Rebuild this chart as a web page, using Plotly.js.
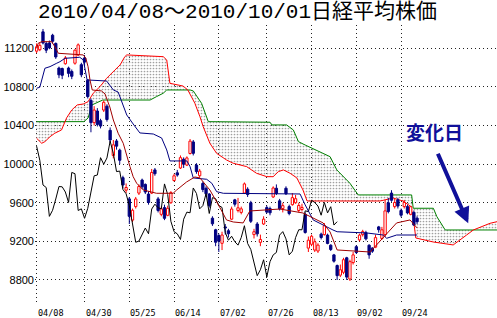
<!DOCTYPE html>
<html><head><meta charset="utf-8">
<script src="https://cdn.plot.ly/plotly-3.0.1.min.js"></script>
<style>html,body{margin:0;padding:0;background:#fff}#chart{width:497px;height:318px}</style>
</head><body><div id="chart"></div>
<script>
// x-axis: trading-day index (0 = 2010/04/08)
const tickDays   = [0, 15, 29, 43, 57, 72, 86, 100, 114];
const tickLabels = ['04/08','04/30','05/25','06/14','07/02','07/26','08/13','09/02','09/24'];
const yTicks     = [8800, 9200, 9600, 10000, 10400, 10800, 11200];
const yTickLabels = ['8800','9200','9600','10000','10400','10800','11200'];

// daily candles (Nikkei 225), days 0..119
const open  = [11170,11185,11370,11250,11255,11335,11250,10995,10990,11040,10995,10960,11045,11130,11030,11100,10870,10660,10430,10550,
               10450,10560,10600,10350,10090,10240,10145,9860,9730,9640,9420,9560,9700,9835,9790,9690,9700,9940,9640,9480,
               9550,9470,9600,9830,9910,9960,10050,9990,10110,10230,9990,9880,9800,9750,9690,9440,9320,9260,9180,9350,
               9310,9430,9630,9520,9500,9700,9740,9600,9270,9380,9190,9380,9550,9540,9660,9750,9620,9540,9750,9560,
               9580,9600,9520,9530,9480,9130,9170,9110,9100,9275,9270,9265,9160,9060,8950,8850,8880,9030,8810,8980,
               9145,9215,9270,9290,9160,9130,9140,9350,9230,9270,9600,9700,9560,9630,9520,9560,9560,9480,9500,9440];
const high  = [11250,11260,11400,11270,11280,11350,11260,11010,11000,11120,11010,10980,11190,11250,11050,11130,10880,10680,10600,10580,
               10470,10660,10620,10380,10250,10260,10160,9880,9800,9660,9540,9660,9790,9850,9800,9720,9950,9960,9660,9560,
               9580,9570,9720,9900,9940,10090,10070,10080,10260,10250,10010,9950,9820,9770,9700,9460,9330,9280,9300,9380,
               9330,9560,9640,9650,9560,9810,9760,9620,9330,9400,9270,9460,9570,9560,9770,9790,9640,9600,9770,9580,
               9700,9680,9600,9590,9500,9250,9270,9230,9180,9290,9390,9280,9170,9070,8960,8960,9030,9040,9010,9090,
               9160,9280,9320,9310,9170,9140,9270,9360,9350,9630,9650,9730,9640,9650,9540,9630,9580,9570,9520,9460];
const low   = [11150,11170,11240,11150,11190,11250,11090,10890,10880,11030,10900,10880,11030,11120,10900,11020,10680,10330,10400,10390,
               10370,10540,10440,10220,10060,10150,10000,9750,9700,9380,9400,9540,9680,9740,9690,9580,9690,9880,9500,9460,
               9420,9460,9590,9820,9870,9950,9960,9980,10100,10090,9900,9860,9710,9660,9550,9360,9150,9090,9110,9270,
               9240,9420,9560,9500,9480,9690,9660,9390,9230,9250,9150,9370,9490,9470,9650,9680,9520,9500,9680,9470,
               9570,9590,9500,9510,9280,9090,9150,9090,9080,9220,9260,9170,9100,8980,8800,8830,8860,8800,8790,8960,
               9070,9200,9250,9210,9020,9080,9130,9290,9215,9245,9490,9610,9540,9540,9450,9540,9480,9470,9360,9380];
const close = [11215,11230,11255,11180,11204,11273,11110,10925,10920,11100,10940,10910,11180,11235,10925,11057,10700,10430,10560,10411,
               10394,10640,10462,10250,10200,10186,10040,9784,9758,9459,9522,9639,9768,9765,9711,9603,9914,9901,9520,9537,
               9439,9542,9705,9879,9887,10067,9999,10064,10238,10112,9923,9928,9737,9693,9570,9382,9191,9203,9266,9338,
               9279,9535,9585,9548,9537,9795,9685,9408,9300,9278,9220,9430,9503,9496,9753,9696,9537,9570,9694,9489,
               9653,9642,9572,9551,9292,9212,9253,9196,9161,9240,9362,9179,9116,8995,8845,8906,9010,8830,8990,9060,
               9085,9265,9301,9226,9060,9098,9239,9321,9320,9516,9509,9626,9602,9566,9471,9603,9495,9559,9369,9404];

// Ichimoku lines (day index, value)
const tenkanDay = [0,0.5,1.6,4.7,5.7,6.8,14.6,15.4,16.1,16.7,17.4,20.3,21.4,22.9,24,25.5,27.1,28.2,29.2,30.2,31.3,33.4,37.5,42.7,43.8,46.9,
                   49.5,51.1,54.2,57.4,59.4,61.5,64.6,66.7,76.1,83.3,86.5,89.6,91.8,94,104.3,108.4,112.6,116.8,119];
const tenkanVal = [11200,11252,11268,11268,11217,11148,11131,11096,11009,10872,10768,10758,10727,10592,10457,10320,10216,10077,9974,9870,9802,9732,9698,9698,9732,9815,
                   9867,9857,9732,9546,9422,9401,9391,9515,9535,9494,9442,9391,9297,9111,9090,9235,9391,9422,9339];
const kijunDay  = [0,1,2.6,4.2,6.3,7.3,8.9,13.5,14.6,15.8,21.9,24,25.5,27.1,28.2,30.2,32.3,36.5,39.1,40.7,41.7,47,48,49,53.2,54.8,56.3,58.4,
                   82.4,84,86.5,92.7,94,103.3,108.4,109.5,112.6,119];
const kijunVal  = [10786,10796,10993,11010,11045,11061,11096,11107,11079,10872,10861,10768,10747,10613,10509,10416,10323,10312,10271,10147,10033,10033,9974,9857,9843,9802,9715,9698,
                   9691,9578,9422,9318,9300,9287,9266,9232,9266,9266];
const senkouADay = [0,1.6,2.6,4.2,5.7,7.8,9.4,11,12.7,14.6,16.1,17.7,19.8,21.9,24.5,26.1,27.6,28.2,39.6,40.7,41.7,45.8,47.3,49.5,51.1,52.1,
                    54.2,56.3,59.4,61.5,65.7,68.8,72,74,75.6,77.2,79.3,81.4,83.3,84.6,107.4,111.5,114.6,116.8,117.7,118.6,124,130.3,134.5,136.6,141.8,144];
const senkouAVal = [10268,10216,10233,10284,10320,10354,10480,10561,10613,10623,10647,10734,10802,10889,10975,11027,11113,11131,11113,11079,10837,10809,10768,10630,10491,10388,
                    10216,10112,10043,10009,9974,9905,9870,9870,9922,9940,9905,9857,9733,9618,9618,9649,9618,9567,9473,9235,9194,9163,9266,9318,9387,9404];
const senkouBDay = [0,14.8,16.1,17.3,20.7,35.5,37.5,39.6,40.7,48,49,50.2,51.6,53.7,73,73.6,78.2,80.3,81.9,84,91.8,93.9,98,100.6,117.3,117.8,124.1,125.2,127.8,144];
const senkouBVal = [10440,10440,10478,10613,10664,10664,10699,10734,10768,10768,10758,10696,10630,10440,10434,10406,10406,10354,10233,10198,10077,9940,9802,9681,9681,9543,9543,9456,9318,9318];
const chikouShift = 25;

const RED='#ff0000', NAVY='#000080', DARKRED='#a00000', GREEN='#008000';
const HALF=0.36;

function bodyTrace(up){
  const xs=[], ys=[];
  for(let i=0;i<close.length;i++){
    const isUp = close[i] >= open[i];
    if(isUp!==up) continue;
    xs.push(i-HALF,i+HALF,i+HALF,i-HALF,i-HALF,null);
    ys.push(open[i],open[i],close[i],close[i],open[i],null);
  }
  return {x:xs,y:ys,type:'scatter',mode:'lines',fill:'toself',
          fillcolor: up?'#ffffff':NAVY, line:{color: up?RED:NAVY,width:1}, hoverinfo:'skip'};
}
function wickTrace(up){
  const xs=[], ys=[];
  for(let i=0;i<close.length;i++){
    const isUp = close[i] >= open[i];
    if(isUp!==up) continue;
    const top=Math.max(open[i],close[i]), bot=Math.min(open[i],close[i]);
    xs.push(i,i,null,i,i,null);
    ys.push(high[i],top,null,bot,low[i],null);
  }
  return {x:xs,y:ys,type:'scatter',mode:'lines',line:{color: up?RED:NAVY,width:1},hoverinfo:'skip'};
}

const chikouX = close.slice(chikouShift).map((_,i)=>i);
const chikouY = close.slice(chikouShift);

const traces = [
  {x:senkouBDay,y:senkouBVal,type:'scatter',mode:'lines',line:{color:GREEN,width:1}},
  {x:senkouADay,y:senkouAVal,type:'scatter',mode:'lines',line:{color:RED,width:1},fill:'tonexty',
   fillcolor:'rgba(0,0,0,0)',fillpattern:{shape:'.',fgcolor:'#a0a0a0',bgcolor:'rgba(255,255,255,0)',size:3,solidity:0.26}},
  wickTrace(true), wickTrace(false), bodyTrace(true), bodyTrace(false),
  {x:chikouX,y:chikouY,type:'scatter',mode:'lines',line:{color:'#000',width:1}},
  {x:kijunDay,y:kijunVal,type:'scatter',mode:'lines',line:{color:NAVY,width:1}},
  {x:tenkanDay,y:tenkanVal,type:'scatter',mode:'lines',line:{color:DARKRED,width:1}}
];

const annotations = tickDays.map((d,i)=>({x:d,xref:'x',y:-0.029,yref:'paper',xanchor:'left',yanchor:'middle',
  text:tickLabels[i],showarrow:false,font:{family:'DejaVu Sans Mono',size:8.5,color:'#000'},borderpad:0}));
annotations.push({x:124.6,xref:'x',y:10338,yref:'y',text:'<b>変化日</b>',showarrow:false,
  font:{family:'Noto Sans CJK JP',size:19,color:'#10109a'}});
annotations.push({x:135,xref:'x',y:9387,yref:'y',text:'',showarrow:true,ax:-31,ay:-71,
  arrowcolor:'#10109a',arrowwidth:4,arrowhead:2,arrowsize:0.8,standoff:0});

const layout = {
  width:497,height:318,margin:{l:35,r:0,t:25,b:13,pad:0},
  paper_bgcolor:'#fff',plot_bgcolor:'#fff',showlegend:false,
  title:{text:'2010/04/08～2010/10/01日経平均株価',xref:'container',x:0.0765,xanchor:'left',yref:'container',y:0.965,yanchor:'middle',
         font:{family:'"Liberation Mono", "Noto Sans CJK JP", monospace',size:21,color:'#000'}},
  xaxis:{range:[-0.5,144],tickvals:tickDays,showticklabels:false,ticks:'',showgrid:true,gridcolor:'#222',griddash:'1px,3px',gridwidth:1,
         zeroline:false,showline:false,fixedrange:true},
  yaxis:{range:[8541,11441],tickvals:yTicks,ticktext:yTickLabels,ticks:'',showgrid:true,gridcolor:'#222',griddash:'1px,3px',gridwidth:1,
         zeroline:false,showline:false,tickfont:{family:'Liberation Sans, Arial',size:11,color:'#000'},fixedrange:true},
  annotations:annotations
};
Plotly.newPlot('chart',traces,layout,{staticPlot:true,displayModeBar:false});
</script></body></html>
